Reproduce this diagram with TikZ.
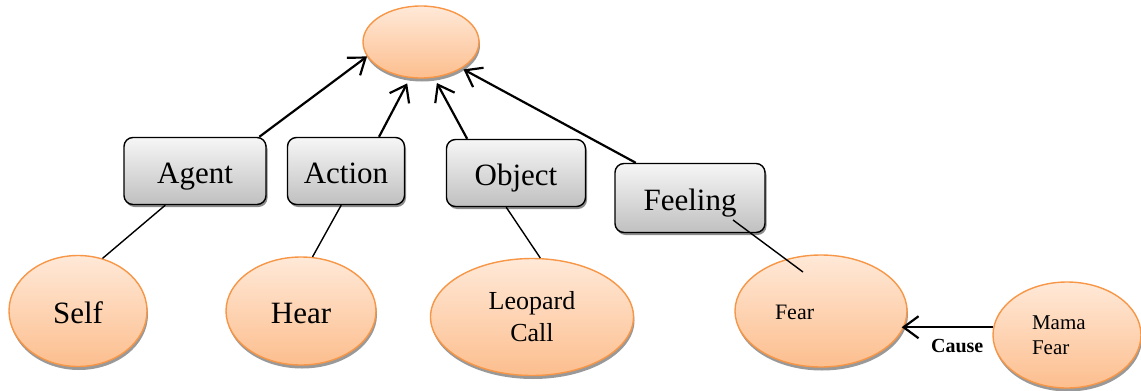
\documentclass[tikz,border=0pt]{standalone}
\usepackage{fontspec}
\setmainfont{Liberation Serif}
\usetikzlibrary{shapes.geometric,arrows.meta,shadows,calc}
\definecolor{orb}{RGB}{247,150,70}
\definecolor{ortop}{RGB}{255,233,216}
\definecolor{orbot}{RGB}{252,190,142}
\definecolor{grtop}{RGB}{246,246,246}
\definecolor{grbot}{RGB}{192,192,192}
\begin{document}
\begin{tikzpicture}[x=1pt,y=-1pt,
  oval/.style={ellipse, draw=orb, line width=1.4pt, top color=ortop, bottom color=orbot,
    inner sep=0pt, drop shadow={shadow xshift=1pt, shadow yshift=-3.5pt, fill=black!40, opacity=1}},
  box/.style={rectangle, rounded corners=9pt, draw=black, line width=1.4pt, top color=grtop,
    bottom color=grbot, inner sep=0pt, font=\fontsize{31}{36}\selectfont,
    text height=24pt, text depth=0pt,
    drop shadow={shadow xshift=1.5pt, shadow yshift=-2.5pt, fill=black!45, opacity=1}},
  big/.style={font=\fontsize{31}{36}\selectfont, text height=24pt, text depth=0pt},
  arr/.style={line width=2.2pt, -{Straight Barb[length=15pt,width=22pt]}},
  ln/.style={line width=1.4pt}
]
\useasboundingbox (0,0) rectangle (1141,391);

\node[oval, minimum width=116pt, minimum height=72pt] (top) at (421,42) {};

\node[box, minimum width=142pt, minimum height=67pt] (agent) at (195,171) {Agent};
\node[box, minimum width=117pt, minimum height=67pt] (action) at (346,171) {Action};
\node[box, minimum width=139pt, minimum height=67pt] (object) at (516,173) {Object};
\node[box, minimum width=150pt, minimum height=69pt] (feeling) at (690,198) {Feeling};

\node[oval, big, minimum width=138pt, minimum height=111pt] (self) at (78,311) {Self};
\node[oval, big, minimum width=150pt, minimum height=108pt] (hear) at (301,311) {Hear};
\node[oval, minimum width=203pt, minimum height=117pt, align=center,
  font=\fontsize{26}{32}\selectfont] (leopard) at (532,317) {Leopard\\Call};
\node[oval, minimum width=172pt, minimum height=112pt, text width=92pt, align=left,
  font=\fontsize{22}{26}\selectfont, text height=16pt, text depth=0pt] (fear) at (821,311) {Fear};
\node[oval, minimum width=148pt, minimum height=106pt, text width=70pt, align=left,
  font=\fontsize{21}{25}\selectfont] (mama) at (1067,335) {Mama\\Fear};

% arrows to top
\draw[arr] (agent.28) -- (top.195);
\draw[arr, shorten >=6pt] (action.46) -- (top.253);
\draw[arr, shorten >=6pt] (object.145) -- (top.290);
\draw[arr, shorten >=2pt] (feeling.147) -- (top.327);

% lines to ovals
\draw[ln] (agent.229) -- (self.65);
\draw[ln] (action.262) -- (hear.78);
\draw[ln] (object.254) -- (leopard.82);
\draw[ln] ([xshift=43pt,yshift=-22pt]feeling.center) -- ([xshift=-18pt,yshift=39pt]fear.center);

% cause
\draw[arr, shorten >=-6pt] (mama.174) -- (mama.174 -| fear.east)
  node[pos=0.42, below=8pt, font=\bfseries\fontsize{20}{24}\selectfont] (cause) {Cause};
\end{tikzpicture}
\end{document}
